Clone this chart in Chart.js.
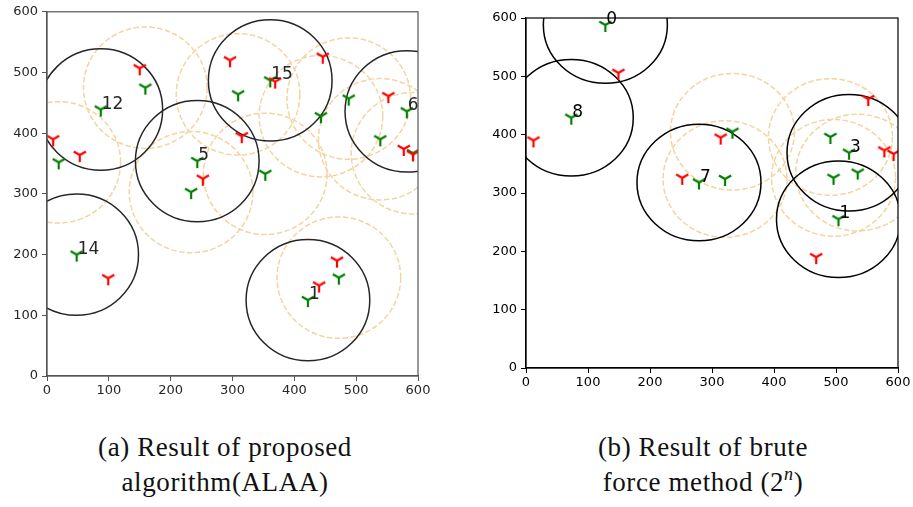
<!DOCTYPE html>
<html>
<head>
<meta charset="utf-8">
<script src="https://cdn.jsdelivr.net/npm/chart.js@4.4.1/dist/chart.umd.min.js"></script>
<style>
  body{margin:0;background:#fff;width:913px;height:507px;position:relative;overflow:hidden}
  canvas{position:absolute}
  #ca{left:0;top:0}
  #cb{left:478px;top:0}
  .cap{position:absolute;font-family:"Liberation Serif",serif;font-size:27px;letter-spacing:0.6px;color:#111;text-align:center;line-height:35px;white-space:nowrap}
  .cap sup{font-size:18px;line-height:0;vertical-align:11px}
</style>
</head>
<body>
<canvas id="ca" width="440" height="405" style="width:440px;height:405px"></canvas>
<canvas id="cb" width="435" height="400" style="width:435px;height:400px"></canvas>
<div class="cap" style="left:25px;top:430px;width:400px">(a) Result of proposed<br>algorithm(ALAA)</div>
<div class="cap" style="left:503px;top:430px;width:400px">(b) Result of brute<br>force method (2<sup><i>n</i></sup>)</div>
<script>
const R = 100; // coverage radius

// (a) proposed algorithm
const aHeadName = ['12', '5', '15', '6', '14', '1'];
const aHeadX = [87, 243, 361, 582, 48, 422];
const aHeadY = [439, 354, 487, 436, 200, 125];
const aNodeX = [159, 19, 233, 309, 488, 443, 539, 592, 353, 472];
const aNodeY = [475, 352, 303, 464, 457, 428, 390, 367, 333, 162];
const aRedX = [150, 10, 53, 252, 296, 446, 369, 315, 552, 577, 592, 99, 469, 440];
const aRedY = [507, 390, 364, 325, 520, 526, 485, 395, 461, 374, 365, 161, 190, 149];

// (b) brute force
const bHeadName = ['0', '8', '3', '7', '1'];
const bHeadX = [128, 73, 521, 279, 504];
const bHeadY = [588, 429, 369, 318, 255];
const bNodeX = [333, 491, 321, 496, 535];
const bNodeY = [405, 396, 324, 326, 335];
const bRedX = [149, 12, 252, 314, 552, 578, 593, 468];
const bRedY = [506, 390, 326, 395, 461, 373, 367, 190];

const ticks = [0, 100, 200, 300, 400, 500, 600];

function yMark(color){
  const c = document.createElement('canvas');
  c.width = 18; c.height = 18;
  const g = c.getContext('2d');
  g.strokeStyle = color; g.lineWidth = 2.2;
  g.beginPath();
  g.moveTo(9, 9); g.lineTo(9, 16);
  g.moveTo(9, 9); g.lineTo(2.9, 5.5);
  g.moveTo(9, 9); g.lineTo(15.1, 5.5);
  g.stroke();
  return c;
}
const redMark = yMark('#ff0000');
const greenMark = yMark('#008000');

function pts(xs, ys){ return xs.map((v, i) => ({x: v, y: ys[i]})); }

const rings = {
  id: 'rings',
  beforeDatasetsDraw(chart, args, o){
    const {ctx, chartArea: a, scales: {x, y}} = chart;
    const rx = Math.abs(x.getPixelForValue(R) - x.getPixelForValue(0));
    const ry = Math.abs(y.getPixelForValue(R) - y.getPixelForValue(0));
    ctx.save();
    ctx.beginPath(); ctx.rect(a.left, a.top, a.width, a.height); ctx.clip();
    ctx.lineWidth = 1.5;
    ctx.strokeStyle = '#f3d4a2';
    ctx.setLineDash([5.5, 2.4]);
    o.nodeX.forEach((v, i) => {
      ctx.beginPath();
      ctx.ellipse(x.getPixelForValue(v), y.getPixelForValue(o.nodeY[i]), rx, ry, 0, 0, Math.PI*2);
      ctx.stroke();
    });
    ctx.setLineDash([]);
    ctx.strokeStyle = o.ring;
    o.headX.forEach((v, i) => {
      ctx.beginPath();
      ctx.ellipse(x.getPixelForValue(v), y.getPixelForValue(o.headY[i]), rx, ry, 0, 0, Math.PI*2);
      ctx.stroke();
    });
    ctx.restore();
  },
  afterDatasetsDraw(chart, args, o){
    const {ctx, chartArea: a, scales: {x, y}} = chart;
    ctx.save();
    ctx.strokeStyle = o.frame; ctx.lineWidth = 1.2;
    ctx.strokeRect(a.left, a.top, a.width, a.height);
    ctx.font = '17px "DejaVu Sans"';
    ctx.fillStyle = o.ring;
    ctx.textBaseline = 'alphabetic';
    o.headName.forEach((t, i) => {
      ctx.fillText(t, x.getPixelForValue(o.headX[i]) + 1, y.getPixelForValue(o.headY[i]) - 1);
    });
    ctx.restore();
  }
};

function axis(col, txt, isX, size){
  return {
    type: 'linear', min: 0, max: 600,
    afterBuildTicks: s => { s.ticks = ticks.map(v => ({value: v})); },
    afterFit: s => { if (isX) s.height = size; else s.width = size; },
    ticks: {color: txt, font: {family: 'DejaVu Sans', size: 13}, padding: isX ? 2 : 4, maxRotation: 0},
    grid: {drawOnChartArea: false, drawTicks: true, tickLength: 5, color: col},
    border: {display: true, color: col, width: 1.2}
  };
}

function makeChart(id, d, pad, yw){
  return new Chart(document.getElementById(id), {
    type: 'scatter',
    data: {
      datasets: [
        {data: pts(d.redX, d.redY), pointStyle: redMark, pointRadius: 9},
        {data: pts(d.nodeX, d.nodeY), pointStyle: greenMark, pointRadius: 9},
        {data: pts(d.headX, d.headY), pointStyle: greenMark, pointRadius: 9}
      ]
    },
    options: {
      responsive: false, animation: false, events: [],
      layout: {padding: pad},
      plugins: {legend: {display: false}, tooltip: {enabled: false}, rings: d},
      scales: {x: axis(d.frame, d.txt, true, 25), y: axis(d.frame, d.txt, false, yw)}
    },
    plugins: [rings]
  });
}

makeChart('ca', {
  headName: aHeadName, headX: aHeadX, headY: aHeadY,
  nodeX: aNodeX, nodeY: aNodeY, redX: aRedX, redY: aRedY,
  ring: '#262626', frame: '#555', txt: '#262626'
}, {left: 0, top: 10, right: 22, bottom: 4}, 47);

makeChart('cb', {
  headName: bHeadName, headX: bHeadX, headY: bHeadY,
  nodeX: bNodeX, nodeY: bNodeY, redX: bRedX, redY: bRedY,
  ring: '#000', frame: '#000', txt: '#000'
}, {left: 0, top: 18, right: 15, bottom: 7}, 48);
</script>
</body>
</html>
